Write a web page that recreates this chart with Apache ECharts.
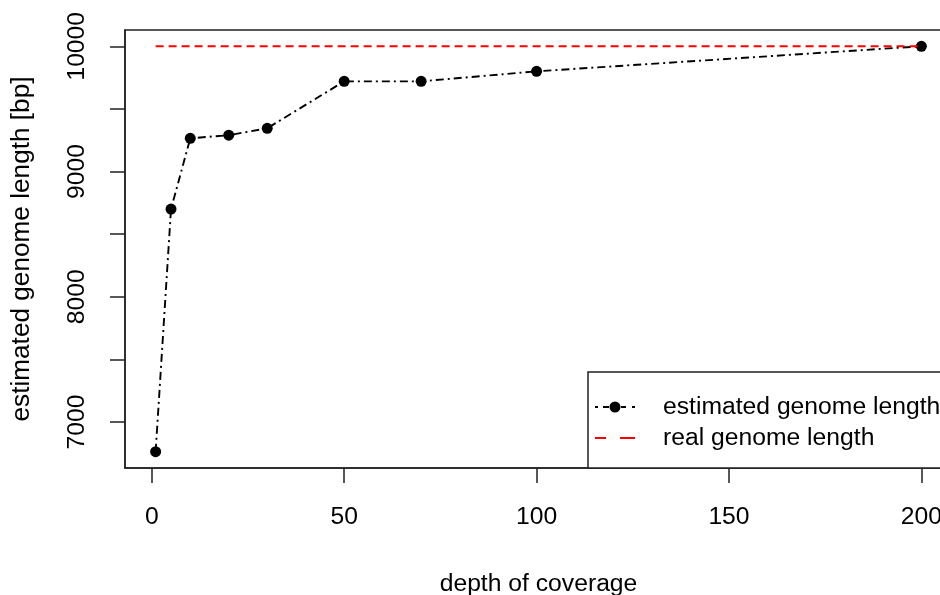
<!DOCTYPE html>
<html>
<head>
<meta charset="utf-8">
<script src="https://cdn.jsdelivr.net/npm/echarts@6/dist/echarts.min.js"></script>
<style>
html,body{margin:0;padding:0;background:#fff;}
#main{width:940px;height:595px;}
</style>
</head>
<body>
<div id="main"></div>
<script>
// data
var depth = [1, 5, 10, 20, 30, 50, 70, 100, 200];
var estimatedLength = [6762, 8700, 9265, 9290, 9345, 9720, 9720, 9800, 10000];
var realDepth = [1, 200];
var realLength = [10000, 10000];
var xTicks = [0, 50, 100, 150, 200];
var yTicks = [7000, 7500, 8000, 8500, 9000, 9500, 10000];
var yLabels = [7000, 8000, 9000, 10000];
var seriesNames = ['estimated genome length', 'real genome length'];

var FONT = '"Liberation Sans", Arial, sans-serif';
var FS = 24.7;
var chart = echarts.init(document.getElementById('main'), null, {renderer: 'canvas'});

function pairs(xs, ys) { return xs.map(function (x, i) { return [x, ys[i]]; }); }

// legend icons imitating R's legend keys (dot-dash line with point; two dashes)
var iconEstimated = 'path://M0,5h3v2h-3Z M8,5h6v2h-6Z M14.5,6a5.5,5.5 0 1,0 11,0a5.5,5.5 0 1,0 -11,0Z M26,5h5v2h-5Z M37,5h3v2h-3Z';
var iconReal = 'path://M0,0h11v2.2h-11Z M25,0h15v2.2h-15Z';

var option = {
  animation: false,
  backgroundColor: '#ffffff',
  textStyle: {fontFamily: FONT, color: '#000'},
  grid: {
    left: 125, top: 30, width: 827, height: 438,
    show: true, borderColor: '#222', borderWidth: 1.5, backgroundColor: 'transparent',
    containLabel: false,
    outerBoundsMode: 'none'
  },
  xAxis: {
    type: 'value',
    min: -6.96, max: 207.96,
    name: 'depth of coverage',
    nameLocation: 'middle',
    nameGap: 104,
    nameTextStyle: {fontFamily: FONT, fontSize: FS, color: '#000'},
    axisLine: {show: true, onZero: false, lineStyle: {color: '#222', width: 1.5}},
    axisTick: {show: true, length: 15, customValues: xTicks, lineStyle: {color: '#222', width: 1.5}},
    axisLabel: {customValues: xTicks, margin: 37, fontFamily: FONT, fontSize: FS, color: '#000'},
    splitLine: {show: false}
  },
  yAxis: {
    type: 'value',
    min: 6632, max: 10130,
    name: 'estimated genome length [bp]',
    nameLocation: 'middle',
    nameGap: 90,
    nameRotate: 90,
    nameTextStyle: {fontFamily: FONT, fontSize: 26.2, color: '#000'},
    axisLine: {show: true, onZero: false, lineStyle: {color: '#222', width: 1.5}},
    axisTick: {show: true, length: 15, customValues: yTicks, lineStyle: {color: '#222', width: 1.5}},
    axisLabel: {
      customValues: yLabels, rotate: 90, margin: 35, fontFamily: FONT, fontSize: FS, color: '#000',
      formatter: function (v) { return String(v); }
    },
    splitLine: {show: false}
  },
  legend: {
    data: [
      {name: seriesNames[0], icon: iconEstimated},
      {name: seriesNames[1], icon: iconReal}
    ],
    orient: 'vertical',
    left: 588, top: 372,
    padding: [22, 30, 17, 7],
    itemGap: 5,
    itemWidth: 40,
    itemHeight: 12,
    symbolKeepAspect: true,
    itemStyle: {borderWidth: 0},
    borderColor: '#222',
    borderWidth: 1.5,
    backgroundColor: '#fff',
    textStyle: {fontFamily: FONT, fontSize: FS, color: '#000', lineHeight: 26, padding: [0, 0, 0, 23]},
    selectedMode: false
  },
  series: [
    {
      name: seriesNames[0],
      type: 'line',
      data: pairs(depth, estimatedLength),
      symbol: 'circle',
      symbolSize: 11,
      itemStyle: {color: '#000'},
      lineStyle: {color: '#000', width: 1.9, type: [8, 4, 2, 4]},
      z: 2
    },
    {
      name: seriesNames[1],
      type: 'line',
      data: pairs(realDepth, realLength),
      symbol: 'none',
      itemStyle: {color: '#ff0000'},
      lineStyle: {color: '#ff0000', width: 2, type: [8, 5]},
      z: 3
    }
  ]
};
chart.setOption(option);
</script>
</body>
</html>
